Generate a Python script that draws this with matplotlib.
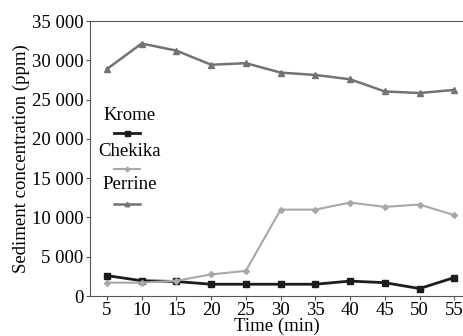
import matplotlib

matplotlib.use("Agg")
import matplotlib.pyplot as plt
from matplotlib.lines import Line2D

time_min = [5, 10, 15, 20, 25, 30, 35, 40, 45, 50, 55]
krome = [2600, 1950, 1850, 1500, 1500, 1500, 1500, 1900, 1700, 950, 2350]
chekika = [1700, 1700, 1950, 2750, 3200, 11000, 11000, 11900, 11350, 11650, 10300]
perrine = [28900, 32150, 31250, 29450, 29650, 28450, 28150, 27600, 26050, 25850, 26250]
y_ticks = [0, 5000, 10000, 15000, 20000, 25000, 30000, 35000]
y_tick_labels = ["0", "5 000", "10 000", "15 000", "20 000", "25 000", "30 000", "35 000"]

plt.rcParams["font.family"] = ["Liberation Serif", "DejaVu Serif"]

fig = plt.figure(figsize=(4.64, 3.36), dpi=100)
ax = fig.add_axes([0.193, 0.119, 0.807, 0.818])

series = [
    ("Krome", krome, "#1c1c1c", "s", 4.5, 2.0),
    ("Chekika", chekika, "#a8a8a8", "D", 3.0, 1.5),
    ("Perrine", perrine, "#737373", "^", 4.0, 1.8),
]
for name, vals, color, marker, ms, lw in series:
    ax.plot(time_min, vals, color=color, marker=marker, markersize=ms, linewidth=lw,
            markeredgecolor=color)

# legend: label above its line sample
leg_y = [(0.655, 0.593), (0.525, 0.462), (0.404, 0.335)]
for (name, vals, color, marker, ms, lw), (ty, hy) in zip(series, leg_y):
    ax.text(0.108, ty, name, transform=ax.transAxes, ha="center", va="center", fontsize=13.5)
    ax.add_line(Line2D([0.065, 0.135], [hy, hy], transform=ax.transAxes, color=color,
                       linewidth=lw))
    ax.plot([0.1], [hy], transform=ax.transAxes, color=color, marker=marker,
            markersize=ms * 0.8, markeredgecolor=color)

ax.set_xlim(2.5, 56.4)
ax.set_ylim(0, 35000)
ax.set_xticks(time_min)
ax.set_yticks(y_ticks)
ax.set_yticklabels(y_tick_labels)
ax.tick_params(labelsize=13.5, length=3, color="#555555", pad=1.5)
ax.set_xlabel("Time (min)", fontsize=13.5, labelpad=-1)
ax.set_ylabel("Sediment concentration (ppm)", fontsize=13.5, labelpad=1)
for side in ["left", "bottom", "top"]:
    ax.spines[side].set_color("#555555")
ax.spines["right"].set_visible(False)

fig.savefig("out.png", dpi=100)
